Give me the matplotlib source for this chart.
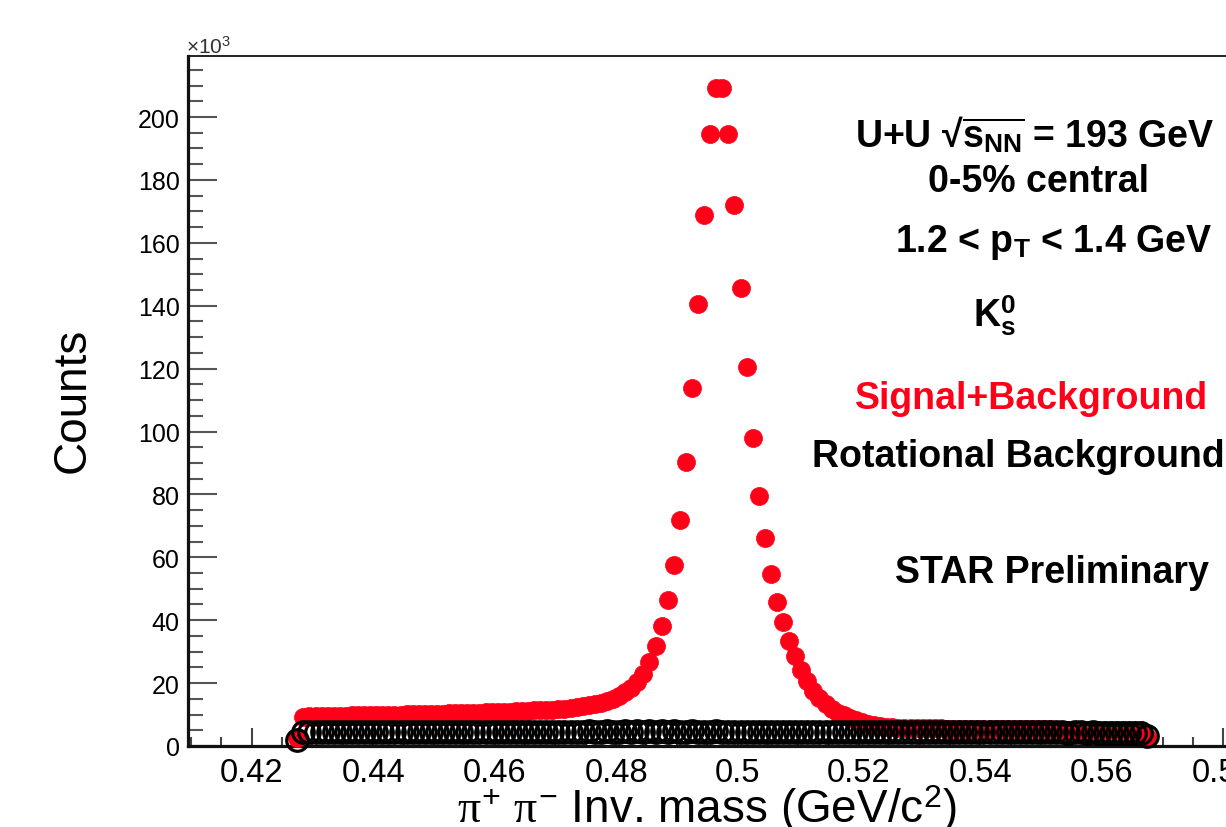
import numpy as np
import matplotlib
matplotlib.use("Agg")
import matplotlib.pyplot as plt
from matplotlib.ticker import MultipleLocator, FuncFormatter

plt.rcParams['font.family'] = ['Liberation Sans', 'DejaVu Sans']
plt.rcParams['mathtext.fontset'] = 'custom'
plt.rcParams['mathtext.rm'] = 'Liberation Sans'
plt.rcParams['mathtext.it'] = 'Liberation Serif'
plt.rcParams['mathtext.bf'] = 'Liberation Sans:bold'

# Invariant-mass binning (GeV/c^2): 141 bins of 1 MeV
mass_lo, mass_hi, n_bins = 0.427, 0.568, 141
edges = np.linspace(mass_lo, mass_hi, n_bins + 1)
mass = 0.5 * (edges[:-1] + edges[1:])

# Counts per bin in units of 10^3
signal_plus_bkg = [
    2.5, 9.3, 9.4, 9.4, 9.5, 9.5, 9.6, 9.6, 9.6, 9.7,
    9.7, 9.8, 9.8, 9.9, 9.9, 10.0, 10.0, 10.0, 10.1, 10.1,
    10.2, 10.2, 10.2, 10.3, 10.3, 10.4, 10.4, 10.5, 10.5, 10.6,
    10.6, 10.7, 10.7, 10.8, 10.9, 10.9, 11.0, 11.1, 11.2, 11.3,
    11.4, 11.5, 11.6, 11.8, 11.9, 12.1, 12.3, 12.6, 12.9, 13.3,
    13.8, 14.4, 15.1, 16.0, 17.1, 18.5, 20.2, 22.8, 26.7, 31.8,
    38.2, 46.4, 57.6, 71.9, 90.3, 113.8, 140.5, 168.8, 194.6, 209.2,
    209.2, 194.6, 172.0, 145.6, 120.5, 97.9, 79.5, 66.1, 54.7, 45.8,
    39.4, 33.4, 28.5, 24.3, 20.6, 17.6, 15.2, 13.3, 11.8, 10.6,
    9.7, 8.9, 8.2, 7.6, 7.1, 6.7, 6.4, 6.1, 5.9, 5.8,
    5.7, 5.7, 5.7, 5.6, 5.6, 5.6, 5.6, 5.5, 5.5, 5.5,
    5.5, 5.5, 5.4, 5.4, 5.4, 5.4, 5.4, 5.4, 5.3, 5.3,
    5.3, 5.3, 5.3, 5.3, 5.3, 5.2, 5.2, 5.2, 5.2, 5.2,
    5.2, 5.2, 5.1, 5.1, 5.1, 5.1, 5.1, 5.1, 5.0, 5.0,
    2.9,
]

rotational_bkg = [
    2.0, 4.4, 4.4, 4.5, 4.4, 4.5, 4.5, 4.4, 4.5, 4.5,
    4.5, 4.4, 4.5, 4.5, 4.5, 4.6, 4.5, 4.5, 4.5, 4.6,
    4.5, 4.6, 4.5, 4.6, 4.6, 4.5, 4.6, 4.6, 4.6, 4.5,
    4.6, 4.6, 4.6, 4.6, 4.5, 4.6, 4.6, 4.6, 4.6, 4.6,
    4.6, 4.6, 4.6, 4.6, 4.6, 4.6, 4.6, 4.6, 4.7, 4.6,
    4.6, 4.7, 4.6, 4.6, 4.7, 4.6, 4.7, 4.6, 4.7, 4.6,
    4.7, 4.6, 4.7, 4.6, 4.6, 4.7, 4.6, 4.6, 4.6, 4.7,
    4.6, 4.6, 4.6, 4.6, 4.6, 4.6, 4.6, 4.6, 4.6, 4.6,
    4.6, 4.6, 4.5, 4.6, 4.6, 4.5, 4.6, 4.5, 4.6, 4.5,
    4.5, 4.5, 4.6, 4.5, 4.5, 4.5, 4.5, 4.5, 4.4, 4.5,
    4.5, 4.4, 4.5, 4.4, 4.5, 4.4, 4.4, 4.4, 4.5, 4.4,
    4.4, 4.4, 4.4, 4.4, 4.3, 4.4, 4.4, 4.3, 4.4, 4.3,
    4.3, 4.4, 4.3, 4.3, 4.3, 4.3, 4.3, 4.2, 4.3, 4.3,
    4.2, 4.3, 4.2, 4.2, 4.2, 4.2, 4.2, 4.2, 4.1, 4.2,
    3.3,
]

RED = '#ff0018'
W, H = 1226, 828

fig = plt.figure(figsize=(W / 100, H / 100), dpi=100, facecolor='white')
x0, x1, y0, y1 = 188, 1284, 747, 57
ax = fig.add_axes([x0 / W, 1 - y0 / H, (x1 - x0) / W, (y0 - y1) / H])

ax.plot(mass, signal_plus_bkg, 'o', ls='none', color=RED, ms=13,
        mec=RED, mew=0.5, zorder=3, clip_on=False)
ax.plot(mass, rotational_bkg, 'o', ls='none', mfc='none', mec='black',
        ms=15.5, mew=2.3, zorder=4, clip_on=False)

ax.set_xlim(0.4095, 0.590)
ax.set_ylim(0, 219.4)

ax.xaxis.set_major_locator(MultipleLocator(0.02))
ax.xaxis.set_minor_locator(MultipleLocator(0.005))
ax.yaxis.set_major_locator(MultipleLocator(20))
ax.yaxis.set_minor_locator(MultipleLocator(5))
ax.xaxis.set_major_formatter(FuncFormatter(lambda v, p: f"{v:g}"))
ax.yaxis.set_major_formatter(FuncFormatter(lambda v, p: f"{v:g}"))

ax.tick_params(axis='x', which='major', direction='in', length=13, width=1.5,
               color='#444444', labelsize=23.5, pad=8, top=False)
ax.tick_params(axis='x', which='minor', direction='in', length=6.5, width=1.5,
               color='#444444', top=False)
ax.tick_params(axis='y', which='major', direction='in', length=21, width=1.5,
               color='#555555', labelsize=18, pad=6, right=False)
ax.tick_params(axis='y', which='minor', direction='in', length=10.5, width=1.5,
               color='#555555', right=False)

ax.spines['left'].set_linewidth(2.3)
ax.spines['bottom'].set_linewidth(2.3)
ax.spines['top'].set_linewidth(1.3)
ax.spines['right'].set_linewidth(1.3)
for s in ax.spines.values():
    s.set_color('#111111')

def fx(px):
    return px / W

def fy(py):
    return 1 - py / H

fig.text(fx(186), fy(54), r'×10$^{3}$', fontsize=15, color='#333333',
         ha='left', va='baseline')

fig.text(fx(73), fy(400), 'Counts', rotation=90, fontsize=33,
         ha='center', va='center')
fig.text(fx(707), fy(823), r'$\pi^{+}\ \pi^{-}$ Inv. mass (GeV/c$^{2}$)',
         fontsize=33, ha='center', va='baseline')

bold = dict(fontsize=27, fontweight='bold', ha='left', va='baseline')
fig.text(fx(855), fy(148),
         r'U+U √$\overline{\mathbf{s}_{\mathbf{NN}}}$ = 193 GeV', **bold)
fig.text(fx(928), fy(192), '0-5% central', **bold)
fig.text(fx(895), fy(252), r'1.2 < $\mathbf{p}_{\mathbf{T}}$ < 1.4 GeV', **bold)
fig.text(fx(973), fy(327), r'$\mathbf{K}^{\mathbf{0}}_{\mathbf{s}}$', **bold)
fig.text(fx(855), fy(409), 'Signal+Background', color=RED, **bold)
fig.text(fx(812), fy(467), 'Rotational Background', **bold)
fig.text(fx(895), fy(583), 'STAR Preliminary', **bold)

fig.savefig('out.png', dpi=100, facecolor='white')
